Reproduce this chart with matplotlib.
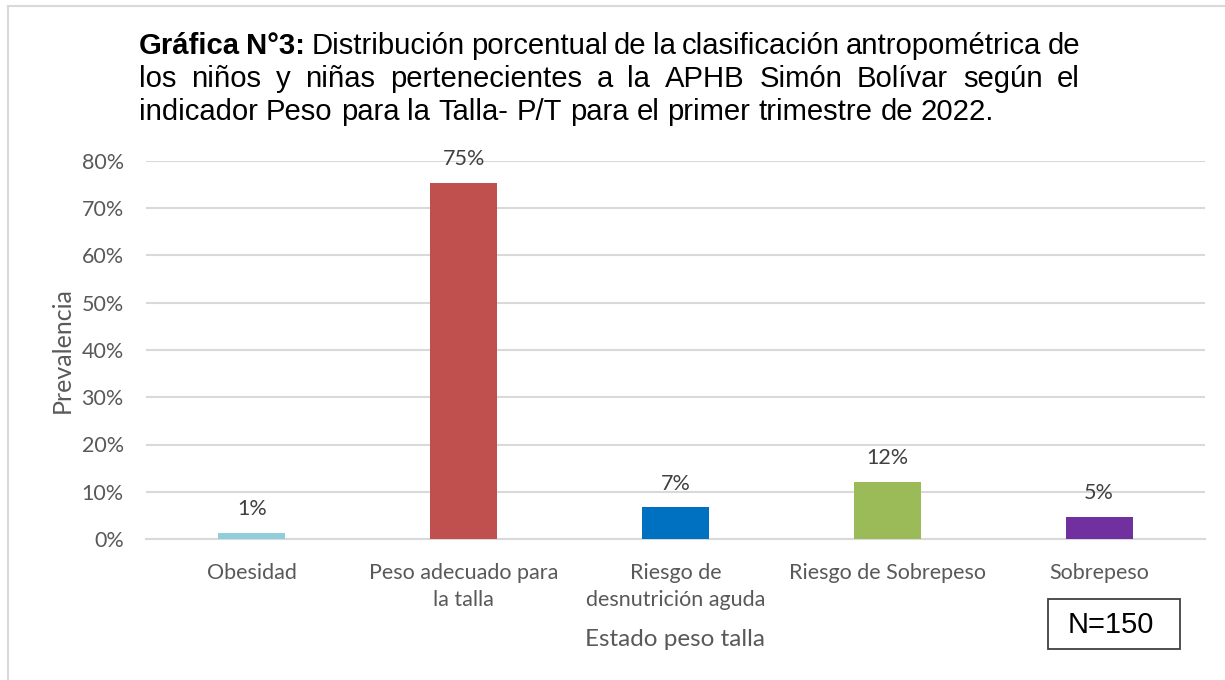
import matplotlib
matplotlib.use("Agg")
import matplotlib.pyplot as plt
from matplotlib.patches import Rectangle
from matplotlib.lines import Line2D

categories = ["Obesidad", "Peso adecuado para\nla talla", "Riesgo de\ndesnutrición aguda",
              "Riesgo de Sobrepeso", "Sobrepeso"]
values = [1.33, 75.33, 6.67, 12.0, 4.67]
value_labels = ["1%", "75%", "7%", "12%", "5%"]
colors = ["#92CDDC", "#C0504D", "#0070C0", "#9BBB59", "#7030A0"]
yticks = [0, 10, 20, 30, 40, 50, 60, 70, 80]
ytick_labels = ["0%", "10%", "20%", "30%", "40%", "50%", "60%", "70%", "80%"]

W, H = 1225, 680
fig = plt.figure(figsize=(W / 100, H / 100), dpi=100)
fig.patch.set_facecolor("white")

ax = fig.add_axes([146 / W, 1 - 539 / H, (1205 - 146) / W, (539 - 161) / H])
x = list(range(len(categories)))
ax.bar(x, values, width=0.316, color=colors, zorder=3)
ax.set_xlim(-0.5, len(categories) - 0.5)
ax.set_ylim(0, 80)
ax.set_yticks(yticks)
ax.set_yticklabels(ytick_labels)
ax.set_xticks(x)
ax.set_xticklabels(categories, linespacing=1.45)
ax.grid(axis="y", color="#D9D9D9", linewidth=1.5, zorder=0)
for s in ["top", "right", "left"]:
    ax.spines[s].set_visible(False)
ax.spines["bottom"].set_color("#D9D9D9")
ax.spines["bottom"].set_linewidth(1.5)
ax.tick_params(axis="both", length=0, colors="#595959", labelsize=15.5)
ax.tick_params(axis="y", pad=16)
ax.tick_params(axis="x", pad=17)
for lab in ax.get_xticklabels() + ax.get_yticklabels():
    lab.set_fontfamily("Lato")
    lab.set_color("#595959")

for xi, v, t in zip(x, values, value_labels):
    ax.annotate(t, (xi, v), xytext=(0, 10), textcoords="offset points",
                ha="center", va="bottom", fontsize=15.5, color="#404040", family="Lato")

fig.text(62 / W, 1 - 350 / H, "Prevalencia", rotation=90, ha="center", va="center",
         fontsize=18, color="#595959", family="Lato")
fig.text(675 / W, 1 - 639 / H, "Estado peso talla", ha="center", va="center",
         fontsize=17.5, color="#595959", family="Lato")

# N box
fig.patches.append(Rectangle((1048 / W, 1 - 649 / H), (1180 - 1048) / W, 50 / H,
                             transform=fig.transFigure, facecolor="white",
                             edgecolor="#404040", linewidth=1.3))
fig.text(1111 / W, 1 - 625 / H, "N=150", ha="center", va="center", fontsize=21,
         family="Liberation Sans", color="black")

# border
fig.lines.append(Line2D([7.5 / W, 7.5 / W], [0, 1 - 5.5 / H], transform=fig.transFigure,
                        color="#D9D9D9", linewidth=1.5))
fig.lines.append(Line2D([7.5 / W, 1], [1 - 5.5 / H, 1 - 5.5 / H], transform=fig.transFigure,
                        color="#D9D9D9", linewidth=1.5))

# Justified title
title_lines = [
    [("Gráfica N°3:", "bold"), ("Distribución porcentual de la clasificación antropométrica de", "normal")],
    [("los niños y niñas pertenecientes a la APHB Simón Bolívar según el", "normal")],
    [("indicador Peso para la Talla- P/T para el primer trimestre de 2022.", "normal")],
]
centers_y = [46, 79, 112]
x0, x1 = 139, 1080
fs = 21.1
renderer = fig.canvas.get_renderer()

def width_of(s, weight):
    t = fig.text(0, 0, s, fontsize=fs, family="Liberation Sans", fontweight=weight)
    w = t.get_window_extent(renderer).width
    t.remove()
    return w

for li, (parts, cy) in enumerate(zip(title_lines, centers_y)):
    words = []
    for s, wgt in parts:
        for w in s.split(" "):
            words.append((w, wgt))
    widths = [width_of(w, wgt) for w, wgt in words]
    if li < 2:
        gap = (x1 - x0 - sum(widths)) / (len(words) - 1)
    else:
        gap = width_of("a b", "normal") - width_of("ab", "normal")
    cx = x0
    for (w, wgt), ww in zip(words, widths):
        fig.text(cx / W, 1 - cy / H, w, fontsize=fs, family="Liberation Sans",
                 fontweight=wgt, ha="left", va="center", color="black")
        cx += ww + gap

fig.savefig("out.png", dpi=100, facecolor="white")
